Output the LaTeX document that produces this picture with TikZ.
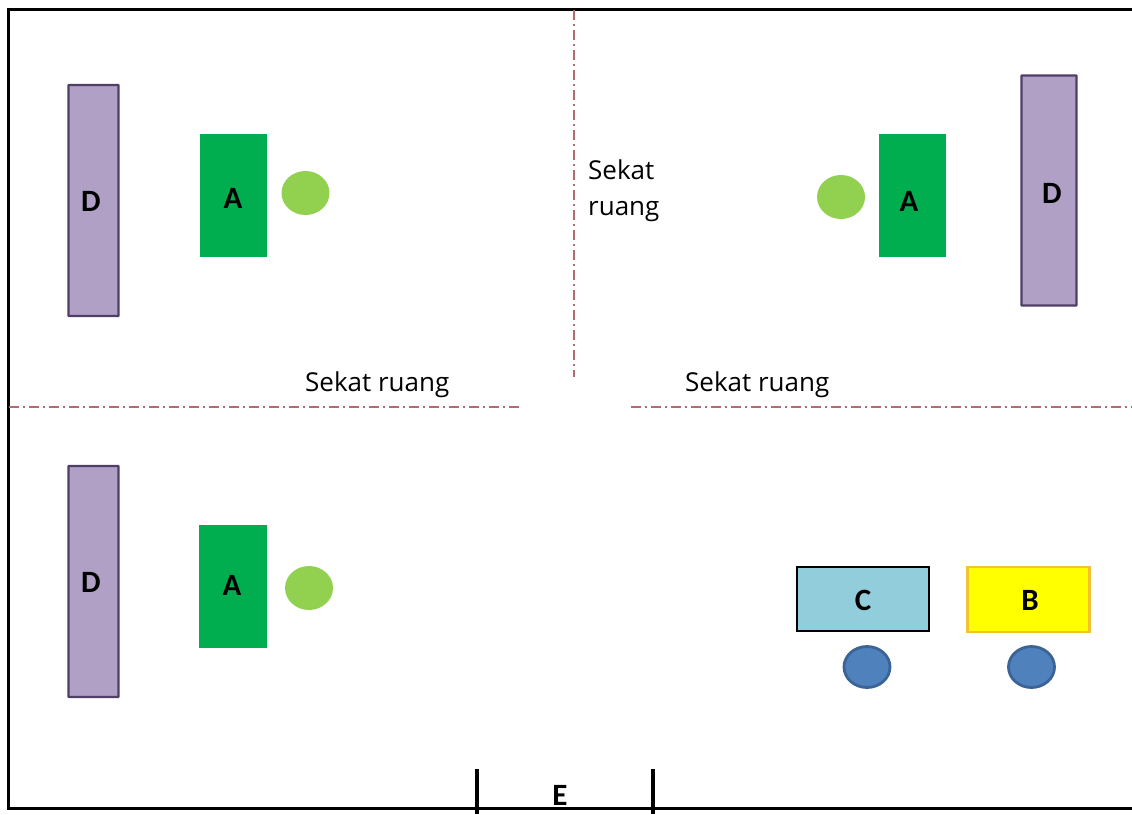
\documentclass[tikz,border=0pt]{standalone}
\usepackage{fontspec}
\setmainfont{Open Sans}
\newfontfamily\tagfont{Carlito}
\usepackage{xcolor}
\usetikzlibrary{positioning,shapes.geometric}
\definecolor{lemari}{HTML}{B0A0C6}
\definecolor{lemaritepi}{HTML}{4F3F66}
\definecolor{meja}{HTML}{00AE4F}
\definecolor{kursi}{HTML}{92D050}
\definecolor{mejac}{HTML}{92CDDC}
\definecolor{mejab}{HTML}{FFFF00}
\definecolor{mejabtepi}{HTML}{F2C230}
\definecolor{kursib}{HTML}{4F81BD}
\definecolor{kursitepi}{HTML}{3A6496}
\definecolor{sekat}{HTML}{B56A72}
\tikzset{
  box/.style={draw,rectangle,inner sep=0pt,line width=2.4pt},
  cupboard/.style={box,fill=lemari,draw=lemaritepi,rounded corners=.5pt},
  desk/.style={rectangle,inner sep=0pt,fill=meja,minimum width=67pt,minimum height=123pt},
  seat/.style={ellipse,inner sep=0pt,fill=kursi,minimum width=48pt,minimum height=44pt},
  seatb/.style={ellipse,inner sep=0pt,fill=kursib,draw=kursitepi,line width=2.8pt,minimum width=46pt,minimum height=41pt},
  tag/.style={font=\tagfont\bfseries\fontsize{31}{31}\selectfont,inner sep=0pt},
  note/.style={font=\fontsize{26}{36.5}\selectfont,inner sep=0pt,align=left},
  partition/.style={sekat,line width=1.3pt,dash pattern=on 10pt off 4pt on 2pt off 4pt}
}
\begin{document}
\begin{tikzpicture}[x=1pt,y=-1pt]
  \useasboundingbox (0,0) rectangle (1132,814);

  % room
  \coordinate (tl) at (8,9);
  \coordinate (tr) at (1132,9);
  \coordinate (bl) at (8,808);
  \coordinate (br) at (1132,808);
  \draw [line width=3pt] (tr) -- (tl) -- (bl) -- (br);

  % door
  \coordinate (e1a) at (477,769);
  \coordinate (e1b) at (477,814);
  \coordinate (e2a) at (653,769);
  \coordinate (e2b) at (653,814);
  \draw [line width=3.4pt] (e1a) -- (e1b);
  \draw [line width=3.4pt] (e2a) -- (e2b);
  \node [tag] (e) at (560,795) {E};

  % partitions
  \coordinate (p1a) at (574,10);
  \coordinate (p1b) at (574,377);
  \coordinate (p2a) at (9,407);
  \coordinate (p2b) at (521,407);
  \coordinate (p3a) at (631,407);
  \coordinate (p3b) at (1132,407);
  \draw [partition] (p1a) -- (p1b);
  \draw [partition] (p2a) -- (p2b);
  \draw [partition] (p3a) -- (p3b);
  \node [note,anchor=west] (s1) at (588,190.5) {Sekat\\ruang};
  \node [note,anchor=west] (s2) at (305,385) {Sekat ruang};
  \node [note,anchor=west] (s3) at (685,385) {Sekat ruang};

  % top left
  \node [cupboard,minimum width=50pt,minimum height=231pt] (d1) at (93.5,200.5) {};
  \node [desk] (a1) at (233.5,195.5) {};
  \node [seat] (k1) at (305.5,193) {};
  \node [tag] (d1t) at (91,201) {D};
  \node [tag] (a1t) at (233,198) {A};

  % top right
  \node [cupboard,minimum width=55pt,minimum height=230pt] (d2) at (1049,190.5) {};
  \node [desk] (a2) at (912.5,195.5) {};
  \node [seat] (k2) at (841,197) {};
  \node [tag] (d2t) at (1052,193) {D};
  \node [tag] (a2t) at (909,201) {A};

  % bottom left
  \node [cupboard,minimum width=50pt,minimum height=231pt] (d3) at (93.5,581.5) {};
  \node [desk,minimum width=68pt] (a3) at (232.5,586.5) {};
  \node [seat] (k3) at (309,588) {};
  \node [tag] (d3t) at (91,582) {D};
  \node [tag] (a3t) at (232,585) {A};

  % bottom right
  \node [box,fill=mejac,draw=black,line width=2.8pt,minimum width=132pt,minimum height=64pt] (c) at (863,599) {};
  \node [box,fill=mejab,draw=mejabtepi,minimum width=122pt,minimum height=65pt] (b) at (1028.5,599.5) {};
  \node [seatb] (k4) at (867,667) {};
  \node [seatb] (k5) at (1031.5,667) {};
  \node [tag] (ct) at (863,600) {C};
  \node [tag] (bt) at (1030,600) {B};
\end{tikzpicture}
\end{document}
